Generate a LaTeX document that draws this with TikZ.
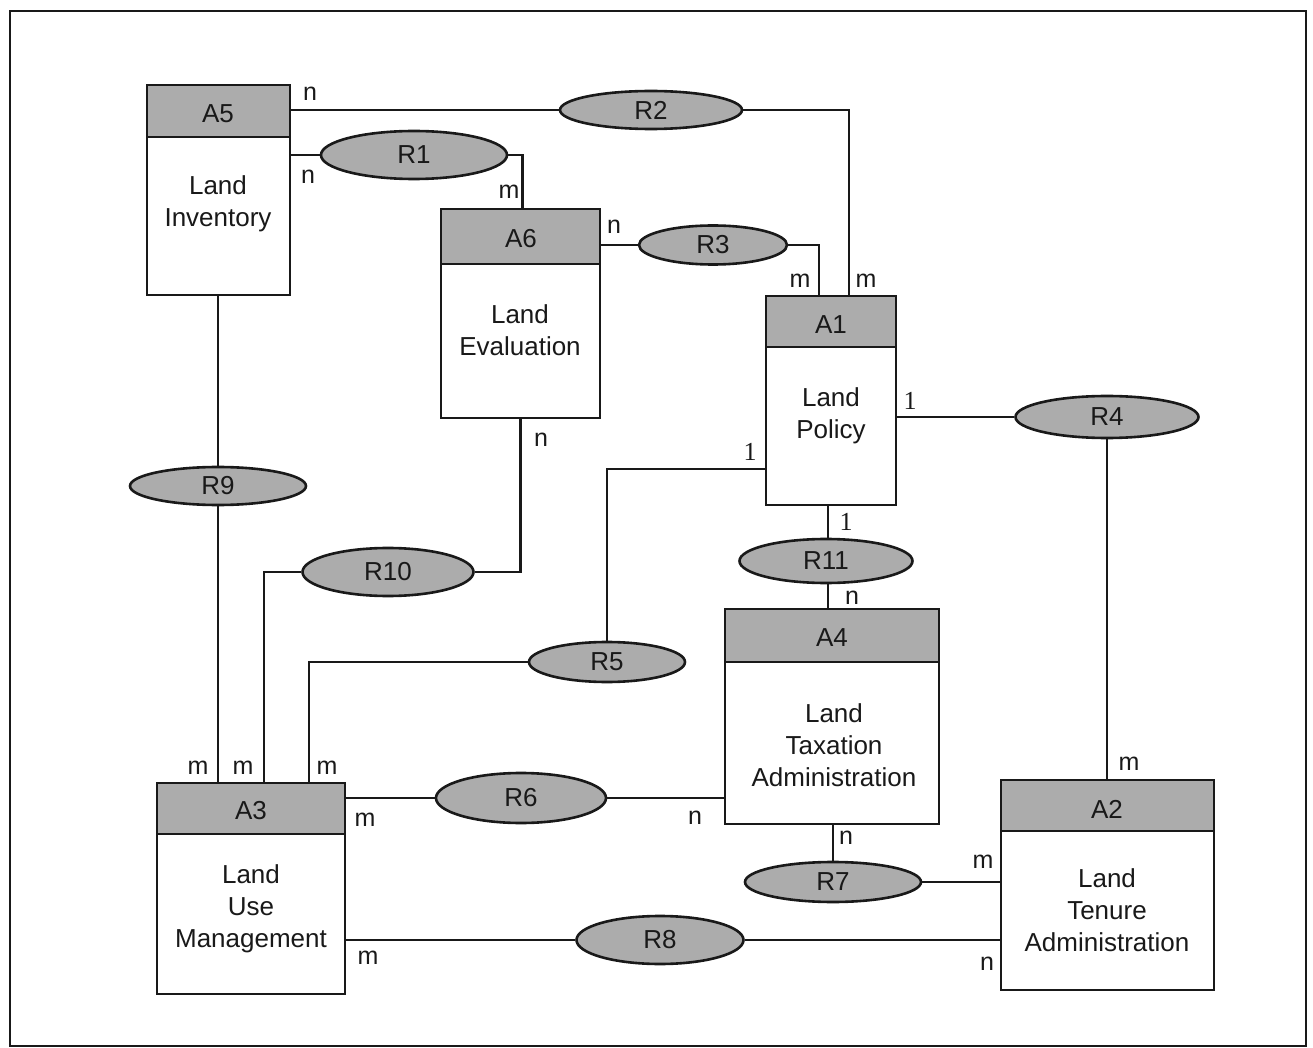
\documentclass[tikz,border=0pt]{standalone}
\usepackage{fontspec}
\setmainfont{Liberation Sans}
\newfontfamily\onefont{Liberation Serif}
\usetikzlibrary{shapes.geometric,fit,calc}
\definecolor{hdgray}{RGB}{172,172,172}
\definecolor{ink}{RGB}{25,25,25}
\tikzset{
  ent/.style={draw=ink, line width=1.4pt, inner sep=0pt},
  head/.style={ent, fill=hdgray},
  rel/.style={ellipse, draw=ink, fill=hdgray, line width=1.3pt, inner sep=0pt,
              font=\fontsize{13}{15}\selectfont, text=ink},
  ttl/.style={font=\fontsize{13}{15}\selectfont, text=ink, inner sep=0pt},
  body/.style={font=\fontsize{13}{16}\selectfont, text=ink, align=center, inner sep=0pt},
  link/.style={draw=ink, line width=1.1pt},
  card/.style={font=\fontsize{12.5}{14}\selectfont, text=ink, inner sep=0pt},
  one/.style={font=\onefont\fontsize{13}{14}\selectfont, text=ink, inner sep=0pt},
}
\begin{document}
\begin{tikzpicture}[x=0.5pt, y=-0.5pt]
\useasboundingbox (0,0) rectangle (1313,1048);
\fill[white] (0,0) rectangle (1313,1048);
\draw[draw=ink, line width=1.3pt] (10,11) rectangle (1306,1046);

% entities: grey header strip over a white body
\node[head, fit={(147,85)(290,137)}] (A5h) {};
\node[ent, fit={(147,137)(290,295)}] (A5) {};
\node[ttl] (A5l) at (218,114) {A5};
\node[body] (A5t) at (218,204) {Land\\Inventory};

\node[head, fit={(441,209)(600,264)}] (A6h) {};
\node[ent, fit={(441,264)(600,418)}] (A6) {};
\node[ttl] (A6l) at (521,239) {A6};
\node[body] (A6t) at (520,330) {Land\\Evaluation};

\node[head, fit={(766,296)(896,347)}] (A1h) {};
\node[ent, fit={(766,347)(896,505)}] (A1) {};
\node[ttl] (A1l) at (831,325) {A1};
\node[body] (A1t) at (831,416) {Land\\Policy};

\node[head, fit={(725,609)(939,662)}] (A4h) {};
\node[ent, fit={(725,662)(939,824)}] (A4) {};
\node[ttl] (A4l) at (832,638) {A4};
\node[body] (A4t) at (834,745) {Land\\Taxation\\Administration};

\node[head, fit={(1001,780)(1214,831)}] (A2h) {};
\node[ent, fit={(1001,831)(1214,990)}] (A2) {};
\node[ttl] (A2l) at (1107,809) {A2};
\node[body] (A2t) at (1107,910) {Land\\Tenure\\Administration};

\node[head, fit={(157,783)(345,834)}] (A3h) {};
\node[ent, fit={(157,834)(345,994)}] (A3) {};
\node[ttl] (A3l) at (251,811) {A3};
\node[body] (A3t) at (251,909) {Land\\Use\\Management};

% relationships
\node[rel, minimum width=93pt, minimum height=24pt] (R1) at (414,155) {R1};
\node[rel, minimum width=91pt, minimum height=19pt] (R2) at (651,110) {R2};
\node[rel, minimum width=74pt, minimum height=19.5pt] (R3) at (713,245) {R3};
\node[rel, minimum width=91.5pt, minimum height=21pt] (R4) at (1107,417) {R4};
\node[rel, minimum width=78pt, minimum height=20pt] (R5) at (607,662) {R5};
\node[rel, minimum width=85pt, minimum height=25pt] (R6) at (521,798) {R6};
\node[rel, minimum width=88pt, minimum height=20pt] (R7) at (833,882) {R7};
\node[rel, minimum width=83.5pt, minimum height=24pt] (R8) at (660,940) {R8};
\node[rel, minimum width=88pt, minimum height=19pt] (R9) at (218,486) {R9};
\node[rel, minimum width=85.5pt, minimum height=24pt] (R10) at (388,572) {R10};
\node[rel, minimum width=86.5pt, minimum height=22pt] (R11) at (826,561) {R11};

% connectors
\begin{scope}[link]
\draw (R2.west) -- (R2.west -| A5h.east);
\draw (R2.east) -| ([xshift=9pt]A1h.north);
\draw (R1.west) -- (R1.west -| A5.east);
\draw (R1.east) -| ([xshift=1pt]A6h.north);
\draw (R3.west) -- (R3.west -| A6h.east);
\draw (R3.east) -| ([xshift=-6pt]A1h.north);
\draw (R4.west) -- (R4.west -| A1.east);
\draw (R4.south) -- (R4.south |- A2h.north);
\draw ([xshift=1pt]R11.north) -- ([xshift=1pt]R11.north |- A1.south);
\draw ([xshift=1pt]R11.south) -- ([xshift=1pt]R11.south |- A4h.north);
\draw (R6.west) -- (R6.west -| A3h.east);
\draw (R6.east) -- (R6.east -| A4.west);
\draw (R7.north) -- (R7.north |- A4.south);
\draw (R7.east) -- (R7.east -| A2.west);
\draw (R8.west) -- (R8.west -| A3.east);
\draw (R8.east) -- (R8.east -| A2.west);
\draw (R9.north) -- (R9.north |- A5.south);
\draw (R9.south) -- (R9.south |- A3h.north);
\draw (R10.west) -| ([xshift=54pt]A3h.north west);
\draw (R10.east) -| (A6.south);
\draw (R5.west) -| ([xshift=76.5pt]A3h.north west);
\draw (R5.north) |- ([yshift=-21.5pt]A1.west);
\end{scope}

% cardinalities
\node[card] (c1) at (310,94) {n};
\node[card] (c2) at (308,177) {n};
\node[card] (c3) at (509,192) {m};
\node[card] (c4) at (614,227) {n};
\node[card] (c5) at (800,281) {m};
\node[card] (c6) at (866,281) {m};
\node[one]  (c7) at (910,401) {1};
\node[card] (c8) at (1129,764) {m};
\node[one]  (c9) at (750,452) {1};
\node[one]  (c10) at (846,522) {1};
\node[card] (c11) at (852,598) {n};
\node[card] (c12) at (541,440) {n};
\node[card] (c13) at (198,768) {m};
\node[card] (c14) at (243,768) {m};
\node[card] (c15) at (327,768) {m};
\node[card] (c16) at (365,820) {m};
\node[card] (c17) at (695,818) {n};
\node[card] (c18) at (846,838) {n};
\node[card] (c19) at (983,862) {m};
\node[card] (c20) at (368,958) {m};
\node[card] (c21) at (987,964) {n};
\end{tikzpicture}
\end{document}
